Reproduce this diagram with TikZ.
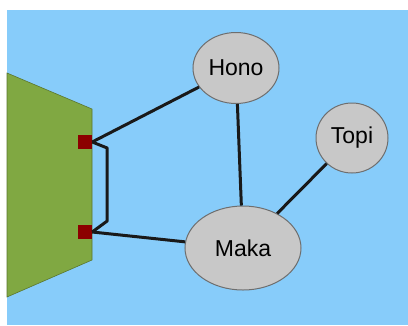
\documentclass[tikz,border=0pt]{standalone}
\usepackage{fontspec}
\setmainfont{Liberation Sans}
\usetikzlibrary{shapes.geometric}
\definecolor{sky}{RGB}{135,204,250}
\definecolor{leaf}{RGB}{128,168,66}
\definecolor{port}{RGB}{140,0,0}
\definecolor{bubble}{RGB}{200,200,200}
\definecolor{rim}{RGB}{110,110,110}
\tikzset{
  bub/.style={ellipse,draw=rim,line width=1pt,fill=bubble,inner sep=0pt,
    font=\fontsize{23}{27}\selectfont},
  portbox/.style={rectangle,fill=port,draw=none,minimum width=14pt,minimum height=14pt,inner sep=0pt},
  wire/.style={line width=3pt,draw=black!90}
}
\begin{document}
\begin{tikzpicture}[x=1pt,y=-1pt]
\useasboundingbox (0,0) rectangle (408,325);
\fill[white] (0,0) rectangle (408,325);
\fill[sky] (7,10) rectangle (408,325);
\filldraw[fill=leaf,draw=leaf!70!black,line width=0.6pt] (7,73) -- (92,109) -- (92,260) -- (7,297) -- cycle;
\node[bub,minimum width=86pt,minimum height=71pt] (hono) at (236,68) {Hono};
\node[bub,minimum width=72pt,minimum height=70pt] (topi) at (352,138) {Topi};
\node[bub,minimum width=116pt,minimum height=84pt] (maka) at (243,248) {Maka};
\draw[wire] (hono) -- (maka);
\draw[wire] (topi) -- (maka);
\node[portbox] (p1) at (85,142) {};
\node[portbox] (p2) at (85,232) {};
\draw[wire] (p1.east) -- (hono);
\draw[wire] (p2.east) -- (maka);
\draw[wire,line join=round] (p1.east) -- ++(15,6) -- ++(0,73) -- (p2.east);
\end{tikzpicture}
\end{document}
